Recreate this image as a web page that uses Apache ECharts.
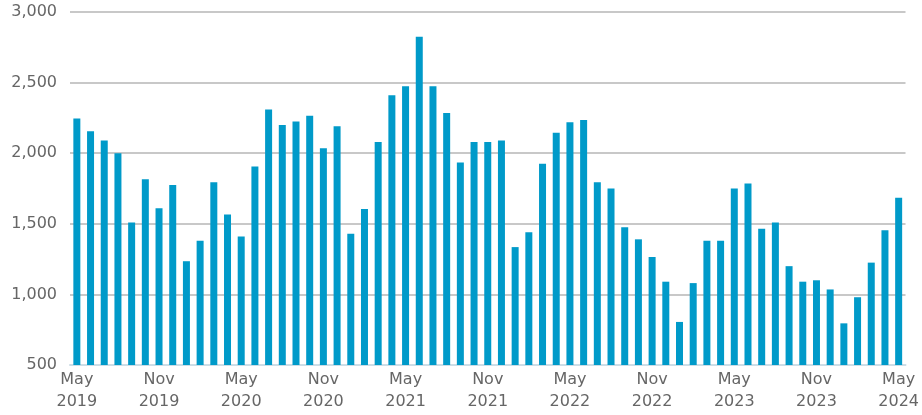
<!DOCTYPE html>
<html>
<head>
<meta charset="utf-8">
<script src="https://cdn.jsdelivr.net/npm/echarts@6/dist/echarts.min.js"></script>
<style>
html,body{margin:0;padding:0;background:#fff;}
#chart{width:922px;height:415px;}
</style>
</head>
<body>
<div id="chart"></div>
<script>
const monthNames = ['Jan','Feb','Mar','Apr','May','Jun','Jul','Aug','Sep','Oct','Nov','Dec'];
const startYear = 2019, startMonth = 4; // May 2019
const values = [
  2245, 2155, 2090, 2000, 1510, 1815, 1610, 1775, 1235, 1380,
  1795, 1565, 1410, 1905, 2310, 2200, 2225, 2265, 2035, 2190,
  1430, 1605, 2080, 2410, 2475, 2825, 2475, 2285, 1935, 2080,
  2080, 2090, 1335, 1440, 1925, 2145, 2220, 2235, 1795, 1750,
  1475, 1390, 1265, 1090, 805, 1080, 1380, 1380, 1750, 1785,
  1465, 1510, 1200, 1090, 1100, 1035, 795, 980, 1225, 1455,
  1685
];
const yTicks = { min: 500, max: 3000, interval: 500 };
const categories = values.map((v, i) => {
  const m = (startMonth + i) % 12;
  const y = startYear + Math.floor((startMonth + i) / 12);
  return monthNames[m] + '\n' + y;
});

const chart = echarts.init(document.getElementById('chart'), null, {renderer: 'canvas'});
chart.setOption({
  animation: false,
  grid: { left: 70, right: 15, top: 12, bottom: 50, containLabel: false },
  xAxis: {
    type: 'category',
    data: categories,
    boundaryGap: true,
    axisLine: { show: true, lineStyle: { color: '#cddde6', width: 2 } },
    axisTick: { show: false },
    axisLabel: {
      interval: 5,
      color: '#666',
      fontFamily: 'DejaVu Sans',
      fontSize: 16,
      lineHeight: 22,
      margin: 4
    },
    splitLine: { show: false }
  },
  yAxis: {
    type: 'value',
    min: yTicks.min,
    max: yTicks.max,
    interval: yTicks.interval,
    axisLine: { show: false },
    axisTick: { show: false },
    axisLabel: {
      color: '#666',
      fontFamily: 'DejaVu Sans',
      fontSize: 16,
      margin: 13,
      padding: [6, 0, 0, 0],
      formatter: v => v.toLocaleString('en-US')
    },
    splitLine: { show: true, lineStyle: { color: '#c8c8c8', width: 2 } }
  },
  series: [{
    type: 'bar',
    data: values,
    barWidth: 7,
    itemStyle: { color: '#009ac9' }
  }]
});
</script>
</body>
</html>
